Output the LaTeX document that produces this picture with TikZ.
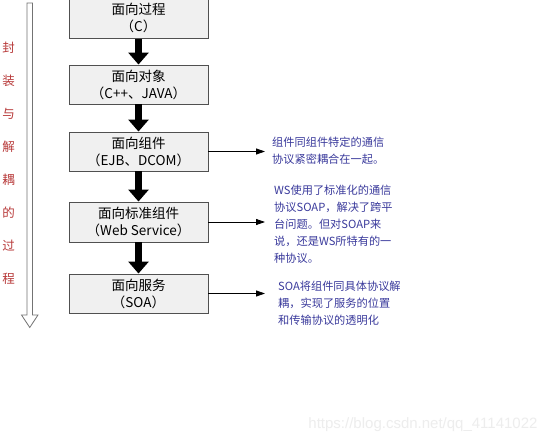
\documentclass[tikz,border=0pt]{standalone}
\usepackage{fontspec}
\setmainfont{Liberation Sans}
\newfontfamily\cjk{Noto Sans CJK SC}
\usetikzlibrary{arrows.meta}
\definecolor{boxfill}{HTML}{F0F0F0}
\definecolor{boxline}{HTML}{505050}
\definecolor{notecol}{HTML}{3A3A9C}
\definecolor{redcol}{HTML}{B83A3A}
\tikzset{
  stagebox/.style={draw=boxline, line width=0.9pt, fill=boxfill, minimum width=139pt,
    minimum height=39pt, inner sep=0pt, align=center,
    font=\cjk\fontsize{13.5}{17}\selectfont},
  flow/.style={line width=7pt, -{Triangle[width=20pt,length=12pt]}},
  notearrow/.style={line width=0.8pt, -{Triangle[width=6pt,length=9pt]}},
  notetext/.style={inner sep=0pt, align=left, text=notecol,
    font=\cjk\fontsize{11.2}{17}\selectfont, anchor=north west},
}
\begin{document}
\begin{tikzpicture}[x=1pt,y=-1pt]
\useasboundingbox (0,0) rectangle (554,443);
\fill[white] (0,0) rectangle (554,443);

% boxes
\node[stagebox, minimum height=41pt] (b1) at (138.5,18) {面向过程\\（C）};
\node[stagebox] (b2) at (138.5,84.5) {面向对象\\（C++、JAVA）};
\node[stagebox] (b3) at (138.5,151.5) {面向组件\\（EJB、DCOM）};
\node[stagebox, minimum height=40pt] (b4) at (138.5,222) {面向标准组件\\（Web Service）};
\node[stagebox] (b5) at (138.5,293.5) {面向服务\\（SOA）};

\draw[flow] (b1.south) -- (b2.north);
\draw[flow] (b2.south) -- (b3.north);
\draw[flow] (b3.south) -- (b4.north);
\draw[flow] (b4.south) -- (b5.north);

% notes
\node[notetext] (n1) at (272,137) {组件同组件特定的通信\\协议紧密耦合在一起。};
\node[notetext] (n2) at (274,185) {WS使用了标准化的通信\\协议SOAP，解决了跨平\\台问题。但对SOAP来\\说，还是WS所特有的一\\种协议。};
\node[notetext] (n3) at (278,281) {SOA将组件同具体协议解\\耦，实现了服务的位置\\和传输协议的透明化};

\coordinate (t1) at (265,151.5);
\coordinate (t2) at (265,222);
\coordinate (t3) at (265,293.5);
\draw[notearrow] (b3.east) -- (t1);
\draw[notearrow] (b4.east) -- (t2);
\draw[notearrow] (b5.east) -- (t3);

% left hollow arrow
\draw[boxline!80, line width=0.8pt, fill=white, line join=miter]
  (27,3) -- (32.5,3) -- (32.5,315) -- (38,315) -- (29.75,327.5) -- (21.5,315) -- (27,315) -- cycle;

% vertical red label
\node[text=redcol, inner sep=0pt, align=center, font=\cjk\fontsize{12.5}{33}\selectfont] (lbl) at (8.5,163)
  {封\\装\\与\\解\\耦\\的\\过\\程};

% watermark
\node[text=black!7, inner sep=0pt, font=\fontsize{15}{16}\selectfont] (wm) at (423,425) {https://blog.csdn.net/qq\_41141022};
\end{tikzpicture}
\end{document}
